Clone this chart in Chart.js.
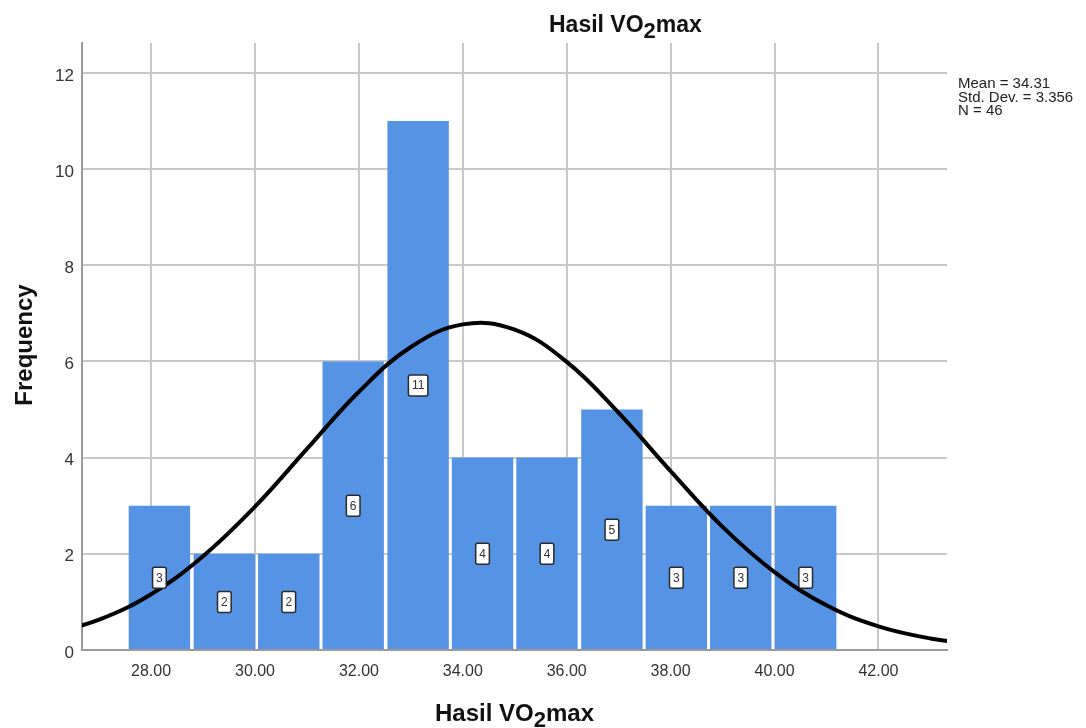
<!DOCTYPE html>
<html><head><meta charset="utf-8">
<script src="https://cdn.jsdelivr.net/npm/chart.js@4.4.1/dist/chart.umd.min.js"></script>
<style>html,body{margin:0;padding:0;background:#fff}#wrap{width:1086px;height:728px}</style>
</head><body><div id="wrap"><canvas id="c" width="1086" height="728"></canvas></div>
<script>
// ---- data ----
const binCenters = [28.16, 29.41, 30.65, 31.89, 33.14, 34.38, 35.62, 36.87, 38.11, 39.35, 40.60];
const frequencies = [3, 2, 2, 6, 11, 4, 4, 5, 3, 3, 3];
const curveX = [26, 27, 28, 29, 30, 31, 32, 33, 34, 35, 36, 37, 38, 39, 40, 41, 42, 43, 44];
const curveY = [0.32, 0.63, 1.16, 1.95, 2.98, 4.18, 5.37, 6.30, 6.77, 6.66, 5.99, 4.93, 3.72, 2.56, 1.62, 0.93, 0.49, 0.24, 0.11];
const xTicks = [28, 30, 32, 34, 36, 38, 40, 42];
const yTicks = [0, 2, 4, 6, 8, 10, 12];
const statsLines = ['Mean = 34.31', 'Std. Dev. = 3.356', 'N = 46'];
const titleParts = ['Hasil VO', '2', 'max'];
const xAxisTitleParts = ['Hasil VO', '2', 'max'];
const yAxisTitle = 'Frequency';

const FAM = '"Liberation Sans", Arial, sans-serif';

function drawSubText(ctx, parts, x, baseline, font, subFont, subDrop) {
  ctx.textAlign = 'left';
  ctx.textBaseline = 'alphabetic';
  ctx.font = font;
  ctx.fillText(parts[0], x, baseline);
  x += ctx.measureText(parts[0]).width;
  ctx.font = subFont;
  ctx.fillText(parts[1], x, baseline + subDrop);
  x += ctx.measureText(parts[1]).width;
  ctx.font = font;
  ctx.fillText(parts[2], x, baseline);
}
function subTextWidth(ctx, parts, font, subFont) {
  ctx.font = font;
  let w = ctx.measureText(parts[0]).width + ctx.measureText(parts[2]).width;
  ctx.font = subFont;
  return w + ctx.measureText(parts[1]).width;
}

const decorPlugin = {
  id: 'decor',
  afterDraw(chart) {
    const {ctx, chartArea, scales} = chart;
    const y = scales.y;
    const meta = chart.getDatasetMeta(1);
    ctx.save();
    // value boxes
    ctx.font = '12px ' + FAM;
    meta.data.forEach((el, i) => {
      const txt = String(frequencies[i]);
      const cy = y.getPixelForValue(frequencies[i] / 2);
      const w = ctx.measureText(txt).width + 7;
      const h = 21;
      const x0 = el.x - w / 2, y0 = cy - h / 2;
      ctx.beginPath();
      if (ctx.roundRect) ctx.roundRect(x0, y0, w, h, 2); else ctx.rect(x0, y0, w, h);
      ctx.fillStyle = '#ffffff';
      ctx.fill();
      ctx.lineWidth = 1.5;
      ctx.strokeStyle = '#2a2a2a';
      ctx.stroke();
      ctx.fillStyle = '#333';
      ctx.textAlign = 'center';
      ctx.textBaseline = 'middle';
      ctx.fillText(txt, el.x, cy + 0.5);
    });
    // title
    ctx.fillStyle = '#111';
    const tFont = 'bold 23px ' + FAM, tSub = 'bold 22px ' + FAM;
    drawSubText(ctx, titleParts, 549, 32, tFont, tSub, 6);
    // x axis title
    const xFont = 'bold 24px ' + FAM, xSub = 'bold 22px ' + FAM;
    const xw = subTextWidth(ctx, xAxisTitleParts, xFont, xSub);
    const cx = (chartArea.left + chartArea.right) / 2;
    drawSubText(ctx, xAxisTitleParts, cx - xw / 2, 721, xFont, xSub, 6);
    // y axis title
    ctx.save();
    ctx.translate(32, 345);
    ctx.rotate(-Math.PI / 2);
    ctx.font = 'bold 24px ' + FAM;
    ctx.textAlign = 'center';
    ctx.textBaseline = 'alphabetic';
    ctx.fillText(yAxisTitle, 0, 0);
    ctx.restore();
    // stats
    ctx.font = '15px ' + FAM;
    ctx.fillStyle = '#222';
    ctx.textAlign = 'left';
    ctx.textBaseline = 'alphabetic';
    statsLines.forEach((s, i) => ctx.fillText(s, 958, 88 + i * 13.5));
    ctx.restore();
  }
};

new Chart(document.getElementById('c').getContext('2d'), {
  type: 'bar',
  data: {
    datasets: [
      {
        type: 'line',
        data: curveX.map((x, i) => ({x: x, y: curveY[i]})),
        borderColor: '#000', borderWidth: 4, pointRadius: 0,
        tension: 0.4, fill: false, order: 0, clip: 0
      },
      {
        type: 'bar',
        data: binCenters.map((x, i) => ({x: x, y: frequencies[i]})),
        backgroundColor: '#5593E5', borderWidth: 0,
        barPercentage: 0.953, categoryPercentage: 1, order: 1
      }
    ]
  },
  options: {
    responsive: false, animation: false,
    layout: {padding: {left: 0, right: 139, top: 43, bottom: 0}},
    plugins: {legend: {display: false}, tooltip: {enabled: false}, title: {display: false}},
    scales: {
      x: {
        type: 'linear', min: 26.67, max: 43.32, offset: false,
        afterBuildTicks: s => { s.ticks = xTicks.map(v => ({value: v})); },
        afterFit: s => { s.height = 78; },
        ticks: {includeBounds: false, padding: 12, autoSkip: false, maxRotation: 0,
          font: {family: FAM, size: 16}, color: '#333', callback: v => Number(v).toFixed(2)},
        grid: {color: '#c8c8c8', lineWidth: 2, drawTicks: false, offset: false},
        border: {color: '#9a9a9a', width: 2}
      },
      y: {
        type: 'linear', min: 0, max: 12.62,
        afterBuildTicks: s => { s.ticks = yTicks.map(v => ({value: v})); },
        afterFit: s => { s.width = 82; },
        ticks: {includeBounds: false, padding: 8, labelOffset: 3, font: {family: FAM, size: 17}, color: '#333',
          callback: v => String(v)},
        grid: {color: '#c8c8c8', lineWidth: 2, drawTicks: false},
        border: {color: '#9a9a9a', width: 2}
      }
    }
  },
  plugins: [decorPlugin]
});
</script>
</body></html>
